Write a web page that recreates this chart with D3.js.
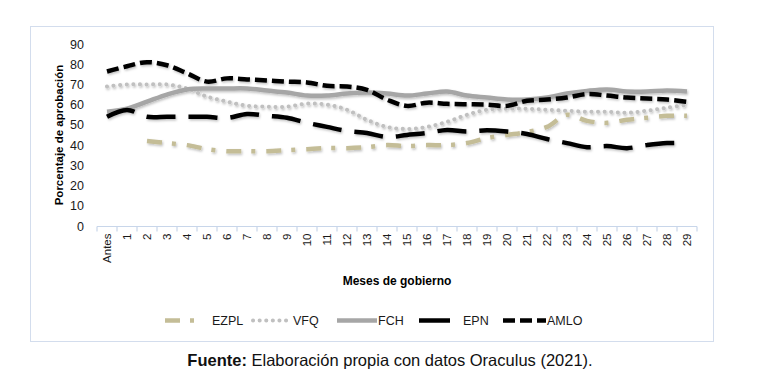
<!DOCTYPE html>
<html>
<head>
<meta charset="utf-8">
<script src="https://cdn.jsdelivr.net/npm/d3@7"></script>
<style>
  body { margin: 0; background: #fff; }
  svg text { font-family: "Liberation Sans", Arial, sans-serif; }
</style>
</head>
<body>
<div id="chart"></div>
<script>
// Meses de gobierno (eje x)
const months = ["Antes"].concat(d3.range(1, 30).map(String));
const yTicks = [0, 10, 20, 30, 40, 50, 60, 70, 80, 90];

// Aprobación presidencial por mes (%)
const ezpl = [null, null, 42, 41, 40, 38, 37, 37, 37, 37.5, 38, 38.5, 38.5, 39, 40, 39.5, 40, 40, 41, 43.5, 45, 46.5, 49, 55, 52, 51, 52.5, 53.5, 54.5, 54.5];
const vfq  = [69, 70, 70, 70, 68, 64, 61.5, 59.5, 59, 59, 60.5, 60, 57.5, 52.5, 49, 48, 49, 51.5, 55, 57.5, 58, 58, 57.5, 57, 56.5, 56.5, 56, 57, 58.5, 60];
const fch  = [56.5, 58, 61.5, 65, 67.5, 68, 68, 68, 67, 66, 64.5, 64.5, 65.5, 66, 65.5, 64.5, 65.5, 66.5, 64.5, 63.5, 62.5, 62.5, 63.5, 65.5, 66.8, 67.5, 66.5, 66.5, 67, 66.5];
const epn  = [54, 57.4, 54, 54, 54, 54, 53.4, 55.4, 54.5, 53.5, 51, 49, 47, 46, 44, 45, 46, 47.5, 46.7, 47.3, 46.7, 45.5, 43, 41, 39, 39.5, 38.5, 40, 41, 41];
const amlo = [76.4, 79, 81, 79.5, 75.5, 71.4, 73, 72.5, 72, 71.4, 71, 69.3, 69, 67.3, 62.5, 59.4, 61, 60.4, 60.2, 60, 59.4, 61.9, 62.5, 63.5, 65.3, 64.5, 63.5, 63, 62.5, 61.4];

const seriesNames = ["EZPL", "VFQ", "FCH", "EPN", "AMLO"];
const seriesValues = [ezpl, vfq, fch, epn, amlo];

const styles = {
    EZPL: { color: "#c4bd97", width: 4.5, dash: "15,10,4,11", cap: "butt" },
    VFQ:  { color: "#c0c0c0", width: 4,   dash: "0.1,6.5",   cap: "round" },
    FCH:  { color: "#a6a6a6", width: 4.5, dash: null,         cap: "butt" },
    EPN:  { color: "#000000", width: 4.5, dash: "29,13",      cap: "butt" },
    AMLO: { color: "#000000", width: 4.5, dash: "12,5",       cap: "butt" }
};

const W = 769, H = 375;
const svg = d3.select("#chart").append("svg")
    .attr("width", W)
    .attr("height", H);

const defs = svg.append("defs");
const shadow = defs.append("filter").attr("id", "shadow")
    .attr("x", "-5%").attr("y", "-20%").attr("width", "110%").attr("height", "140%");
shadow.append("feDropShadow")
    .attr("dx", 1).attr("dy", 1.5).attr("stdDeviation", 1.2)
    .attr("flood-color", "#000").attr("flood-opacity", 0.25);

// marco del gráfico
svg.append("rect")
    .attr("x", 30.5).attr("y", 26.5)
    .attr("width", 683).attr("height", 315)
    .attr("fill", "none")
    .attr("stroke", "#d3dded")
    .attr("stroke-width", 1);

const x = d3.scaleBand().domain(months).range([97, 697]);
const y = d3.scaleLinear().domain([0, 90]).range([226, 44]);
const cx = m => x(m) + x.bandwidth() / 2;

// eje y
const yAxis = svg.append("g")
    .attr("transform", "translate(97,0)")
    .call(d3.axisLeft(y).tickValues(yTicks).tickSize(0).tickPadding(13));
yAxis.select(".domain").remove();
yAxis.selectAll("text")
    .attr("font-size", 12.5)
    .attr("fill", "#1a1a1a")
    .attr("font-family", "'Liberation Sans', Arial, sans-serif");

// eje x
const xAxisG = svg.append("g").attr("transform", "translate(0,226.5)");
xAxisG.append("line")
    .attr("x1", 97).attr("x2", 697)
    .attr("stroke", "#c8d6ea").attr("stroke-width", 1.2);
const bounds = months.map(m => x(m)).concat([697]);
xAxisG.selectAll(".tk").data(bounds).join("line")
    .attr("class", "tk")
    .attr("x1", d => d).attr("x2", d => d)
    .attr("y1", 0).attr("y2", 5)
    .attr("stroke", "#c8d6ea").attr("stroke-width", 1.2);
xAxisG.selectAll(".lbl").data(months).join("text")
    .attr("class", "lbl")
    .attr("transform", d => `translate(${cx(d) + 4},7) rotate(-90)`)
    .attr("text-anchor", "end")
    .attr("font-size", 11.5)
    .attr("fill", "#1a1a1a")
    .text(d => d);

// títulos de ejes
svg.append("text")
    .attr("x", 397).attr("y", 285)
    .attr("text-anchor", "middle")
    .attr("font-size", 12)
    .attr("font-weight", "bold")
    .text("Meses de gobierno");

svg.append("text")
    .attr("transform", "translate(63,135) rotate(-90)")
    .attr("text-anchor", "middle")
    .attr("font-size", 11.5)
    .attr("font-weight", "bold")
    .text("Porcentaje de aprobación");

// líneas
const line = d3.line()
    .defined(d => d.v != null)
    .x(d => cx(d.m))
    .y(d => y(d.v))
    .curve(d3.curveCatmullRom.alpha(0.5));

const plot = svg.append("g").attr("filter", "url(#shadow)");
seriesNames.forEach((name, i) => {
    const st = styles[name];
    const pts = months.map((m, j) => ({ m, v: seriesValues[i][j] }));
    plot.append("path")
        .datum(pts)
        .attr("d", line)
        .attr("fill", "none")
        .attr("stroke", st.color)
        .attr("stroke-width", st.width)
        .attr("stroke-linecap", st.cap)
        .attr("stroke-linejoin", "round")
        .attr("stroke-dasharray", st.dash);
});

// leyenda
const legendItems = [
    { name: "EZPL", x1: 165, x2: 195, tx: 212 },
    { name: "VFQ",  x1: 253, x2: 292, tx: 293 },
    { name: "FCH",  x1: 337, x2: 377, tx: 378 },
    { name: "EPN",  x1: 419, x2: 450, tx: 463 },
    { name: "AMLO", x1: 503, x2: 546, tx: 547 }
];
const legend = svg.append("g");
legendItems.forEach(it => {
    const st = styles[it.name];
    legend.append("line")
        .attr("x1", it.x1).attr("x2", it.x2)
        .attr("y1", 320.5).attr("y2", 320.5)
        .attr("stroke", st.color)
        .attr("stroke-width", st.width)
        .attr("stroke-linecap", st.cap)
        .attr("stroke-dasharray", it.name === "EPN" ? null : st.dash);
    legend.append("text")
        .attr("x", it.tx).attr("y", 325)
        .attr("font-size", 12.5)
        .attr("fill", "#1a1a1a")
        .text(it.name);
});

// fuente
const cap = svg.append("text")
    .attr("x", 390).attr("y", 366)
    .attr("text-anchor", "middle")
    .attr("font-size", 16.5)
    .attr("fill", "#111");
cap.append("tspan").attr("font-weight", "bold").text("Fuente:");
cap.append("tspan").text(" Elaboración propia con datos Oraculus (2021).");
</script>
</body>
</html>
